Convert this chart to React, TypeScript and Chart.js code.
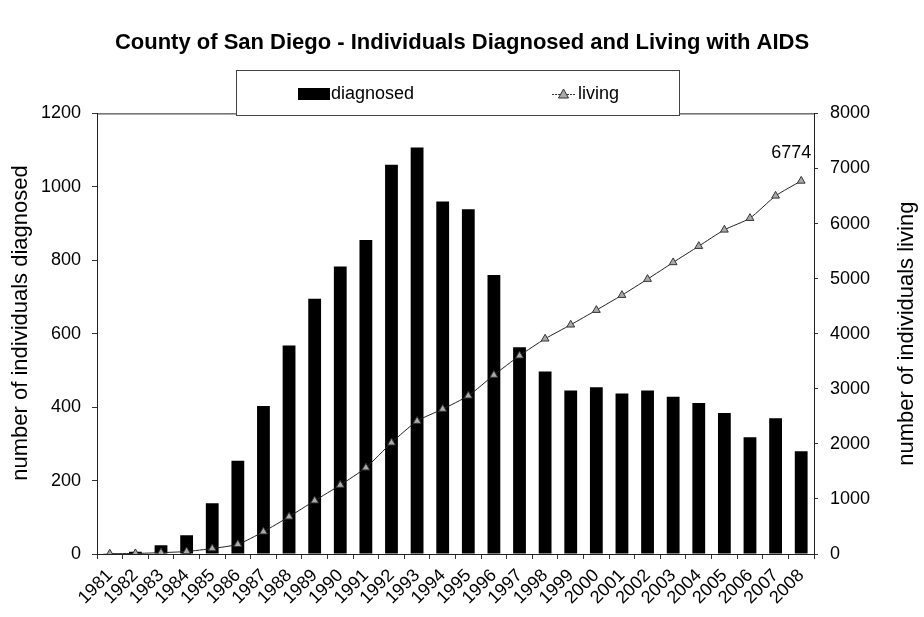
import React, { useEffect, useRef } from "react";
import { Chart, registerables } from "chart.js";

Chart.register(...registerables);

const categories = [
  "1981", "1982", "1983", "1984", "1985", "1986", "1987", "1988", "1989", "1990",
  "1991", "1992", "1993", "1994", "1995", "1996", "1997", "1998", "1999", "2000",
  "2001", "2002", "2003", "2004", "2005", "2006", "2007", "2008",
];
const diagnosed = [
  1, 6, 24, 51, 138, 254, 403, 568, 695, 783,
  855, 1060, 1107, 960, 939, 760, 563, 497, 445, 454,
  437, 445, 428, 411, 384, 318, 370, 280,
];
const living = [
  5, 10, 25, 45, 100, 176, 405, 677, 968, 1252,
  1567, 2020, 2414, 2632, 2873, 3249, 3600, 3908, 4162, 4428,
  4700, 4991, 5294, 5590, 5886, 6098, 6503, 6774,
];
const leftTicks = [0, 200, 400, 600, 800, 1000, 1200];
const rightTicks = [0, 1000, 2000, 3000, 4000, 5000, 6000, 7000, 8000];
const leftTitle = "number of individuals diagnosed";
const rightTitle = "number of individuals living";

const FONT = "'Liberation Sans', Arial, sans-serif";

const frameAndLegend = {
  id: "frameAndLegend",
  beforeDatasetsDraw(chart: any) {
    const { ctx, chartArea } = chart;
    ctx.save();
    ctx.strokeStyle = "#222";
    ctx.lineWidth = 1;
    ctx.beginPath();
    ctx.moveTo(chartArea.left, chartArea.top + 0.5);
    ctx.lineTo(chartArea.right, chartArea.top + 0.5);
    ctx.stroke();
    ctx.restore();
  },
  afterDraw(chart: any) {
    const { ctx, chartArea } = chart;
    ctx.save();
    // axis titles (both read bottom-to-top)
    ctx.fillStyle = "#000";
    ctx.font = `22px ${FONT}`;
    ctx.textAlign = "center";
    ctx.textBaseline = "middle";
    ctx.save();
    ctx.translate(21, 323);
    ctx.rotate(-Math.PI / 2);
    ctx.fillText(leftTitle, 0, 0);
    ctx.restore();
    ctx.save();
    ctx.translate(907, (chartArea.top + chartArea.bottom) / 2);
    ctx.rotate(-Math.PI / 2);
    ctx.fillText(rightTitle, 0, 0);
    ctx.restore();

    // legend box
    ctx.fillStyle = "#fff";
    ctx.fillRect(236, 70, 443, 46);
    ctx.strokeStyle = "#444";
    ctx.lineWidth = 1;
    ctx.strokeRect(236.5, 70.5, 443, 45);
    // diagnosed
    ctx.fillStyle = "#000";
    ctx.fillRect(298, 88, 32, 12);
    ctx.font = `18px ${FONT}`;
    ctx.textBaseline = "middle";
    ctx.textAlign = "left";
    ctx.fillText("diagnosed", 331, 94);
    // living
    ctx.strokeStyle = "#333";
    ctx.setLineDash([2, 1]);
    ctx.beginPath();
    ctx.moveTo(552, 94.5);
    ctx.lineTo(575, 94.5);
    ctx.stroke();
    ctx.setLineDash([]);
    ctx.beginPath();
    ctx.moveTo(563.5, 89);
    ctx.lineTo(568.5, 98);
    ctx.lineTo(558.5, 98);
    ctx.closePath();
    ctx.fillStyle = "#aaa";
    ctx.fill();
    ctx.stroke();
    ctx.fillStyle = "#000";
    ctx.fillText("living", 578, 94);

    // data label on last living point
    const meta = chart.getDatasetMeta(1);
    const last = meta.data[meta.data.length - 1];
    if (last) {
      ctx.font = `18px ${FONT}`;
      ctx.textAlign = "center";
      ctx.textBaseline = "middle";
      ctx.fillText(String(living[living.length - 1]), last.x - 10, last.y - 28);
    }
    ctx.restore();
  },
};

export default function App() {
  const ref = useRef<HTMLCanvasElement | null>(null);
  useEffect(() => {
    if (!ref.current) return;
    const chart = new Chart(ref.current, {
      type: "bar",
      data: {
        labels: categories,
        datasets: [
          {
            type: "bar",
            label: "diagnosed",
            data: diagnosed,
            backgroundColor: "#000",
            borderWidth: 0,
            barPercentage: 0.5,
            categoryPercentage: 1,
            yAxisID: "y",
            order: 1,
          },
          {
            type: "line",
            label: "living",
            data: living,
            borderColor: "#222",
            borderWidth: 1,
            backgroundColor: "#aaa",
            pointStyle: "triangle",
            pointRadius: 4.5,
            pointBorderColor: "#333",
            pointBackgroundColor: "#aaa",
            pointBorderWidth: 1,
            tension: 0.2,
            yAxisID: "y1",
            order: 0,
          } as any,
        ],
      },
      options: {
        responsive: false,
        animation: false,
        layout: { padding: 0 },
        plugins: {
          legend: { display: false },
          tooltip: { enabled: false },
          title: {
            display: true,
            text: "County of San Diego - Individuals Diagnosed and Living with AIDS",
            color: "#000",
            font: { family: FONT, size: 22, weight: "bold" },
            padding: { top: 30, bottom: 57 },
          },
        },
        scales: {
          x: {
            grid: {
              display: true,
              drawOnChartArea: false,
              drawTicks: true,
              tickLength: 5,
              color: "#333",
              offset: true,
            },
            border: { display: true, color: "#222" },
            ticks: {
              color: "#000",
              font: { family: FONT, size: 18 },
              maxRotation: 45,
              minRotation: 45,
              autoSkip: false,
              padding: 6,
            },
            afterFit: (s: any) => {
              s.height = 63;
            },
          },
          y: {
            position: "left",
            min: 0,
            max: 1200,
            afterBuildTicks: (s: any) => {
              s.ticks = leftTicks.map((v) => ({ value: v }));
            },
            grid: {
              display: true,
              drawOnChartArea: false,
              drawTicks: true,
              tickLength: 5,
              color: "#333",
            },
            border: { display: true, color: "#222" },
            ticks: {
              color: "#000",
              font: { family: FONT, size: 18 },
              padding: 11,
              callback: (v: any) => String(v),
            },
            afterFit: (s: any) => {
              s.width = 97;
            },
          },
          y1: {
            position: "right",
            min: 0,
            max: 8000,
            afterBuildTicks: (s: any) => {
              s.ticks = rightTicks.map((v) => ({ value: v }));
            },
            grid: {
              display: true,
              drawOnChartArea: false,
              drawTicks: true,
              tickLength: 4,
              color: "#333",
            },
            border: { display: true, color: "#222" },
            ticks: {
              color: "#000",
              font: { family: FONT, size: 18 },
              padding: 12,
              callback: (v: any) => String(v),
            },
            afterFit: (s: any) => {
              s.width = 110;
            },
          },
        },
      },
      plugins: [frameAndLegend],
    });
    return () => chart.destroy();
  }, []);
  return (
    <div style={{ position: "fixed", left: 0, top: 0, width: 924, height: 617, background: "#fff" }}>
      <canvas ref={ref} width={924} height={617} style={{ display: "block" }} />
    </div>
  );
}
